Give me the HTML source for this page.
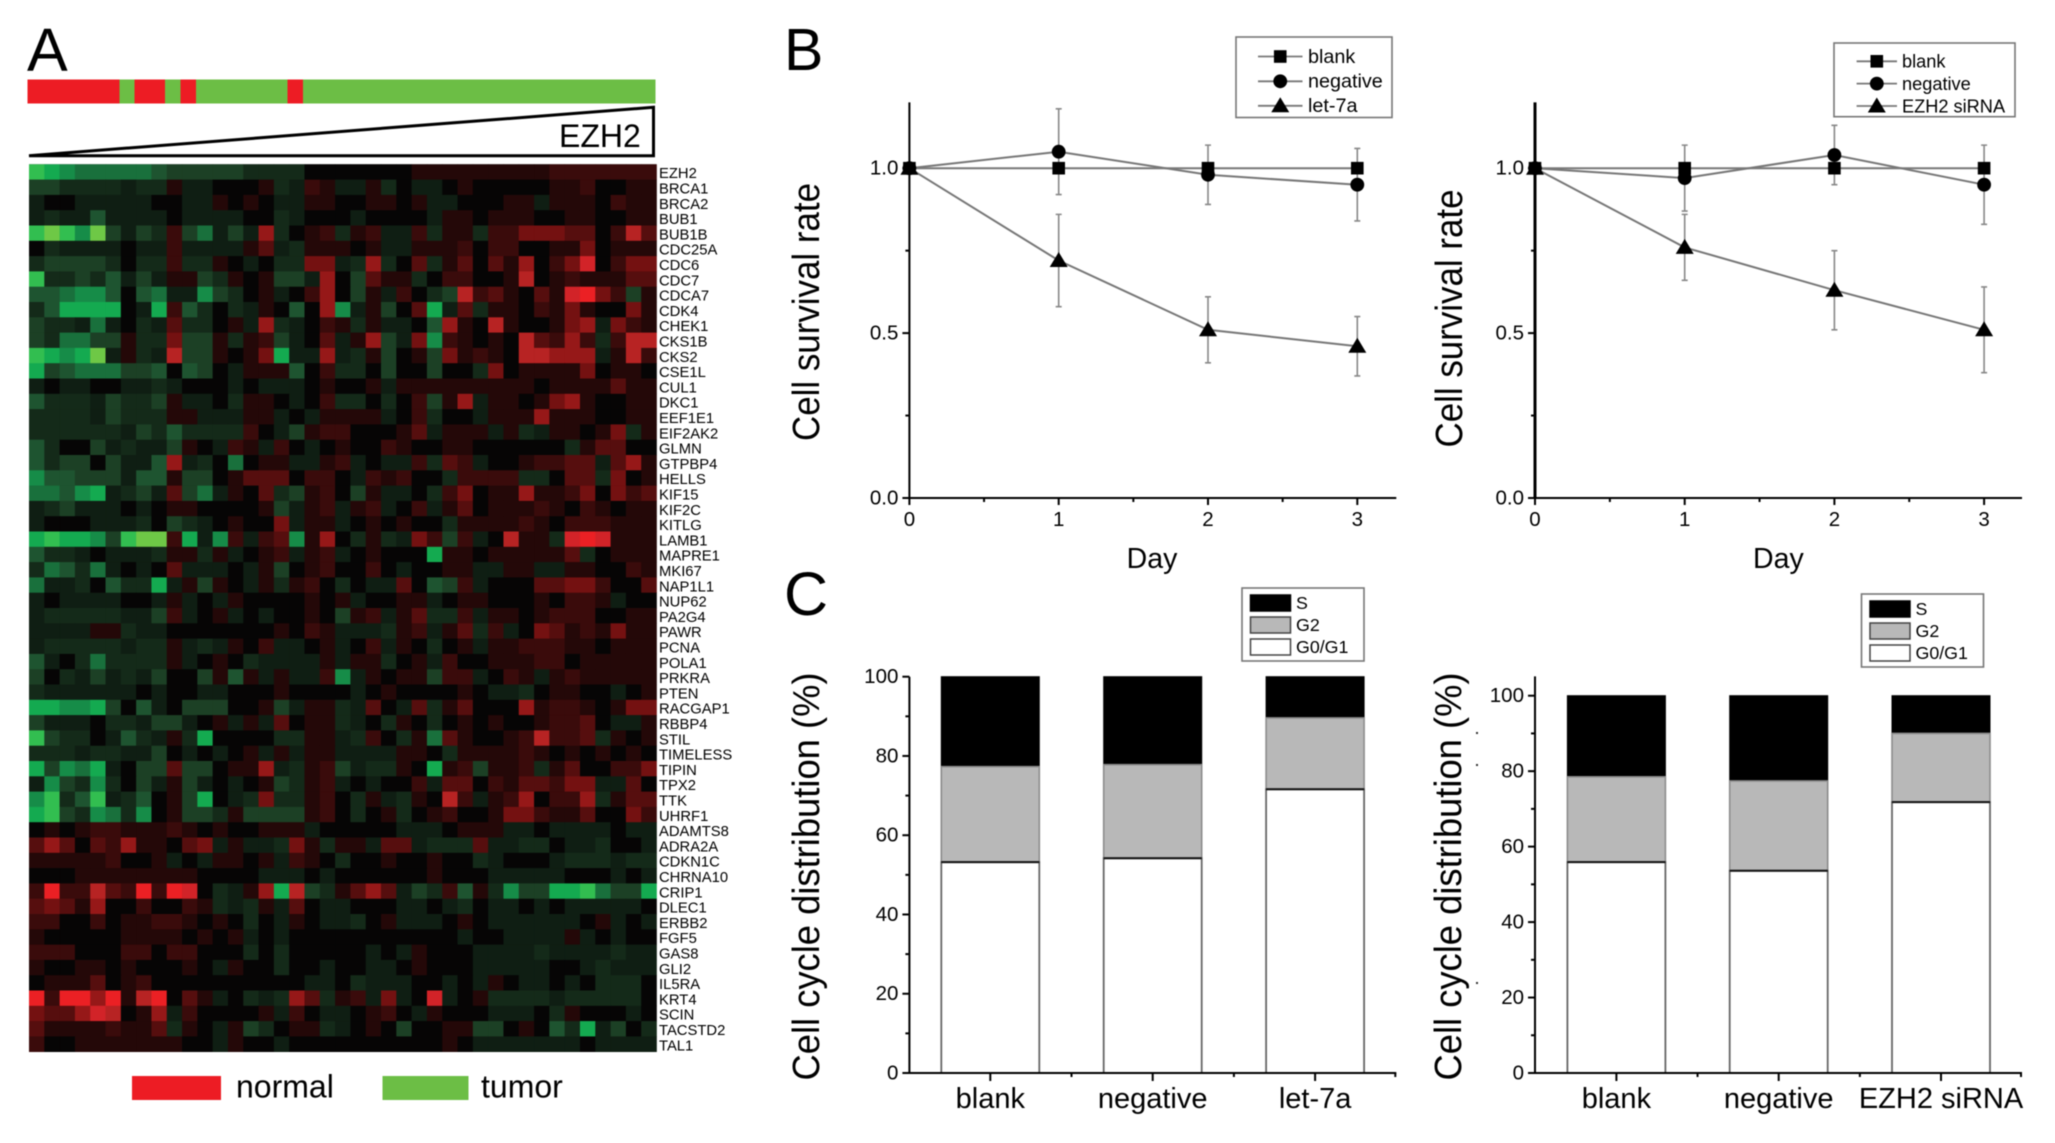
<!DOCTYPE html>
<html lang="en">
<head>
<meta charset="utf-8">
<title>EZH2 expression heatmap, cell survival and cell cycle distribution</title>
<style>
html,body{margin:0;padding:0;background:#fff;}
svg{display:block;font-family:"Liberation Sans",Arial,sans-serif;filter:blur(0.45px);}
</style>
</head>
<body>
<svg id="figure" xmlns="http://www.w3.org/2000/svg" width="2055" height="1143" viewBox="0 0 2055 1143">
  <rect x="0" y="0" width="2055" height="1143" fill="#fff"/>
  <text x="27" y="71" font-size="61">A</text>
  <text x="784" y="70" font-size="59">B</text>
  <text x="784" y="615" font-size="61">C</text>
  <polygon points="29,155.7 653.5,107.3 653.5,155.7" fill="#fff" stroke="#000" stroke-width="3"/>
  <text x="559" y="147" font-size="32">EZH2</text>
  <rect x="132" y="1076" width="89" height="24" fill="#ed1c24"/>
  <text x="236" y="1097.5" font-size="32">normal</text>
  <rect x="382.5" y="1076" width="86" height="24" fill="#6cbe45"/>
  <text x="481" y="1097.5" font-size="32">tumor</text>
  <rect x="1476" y="732" width="2" height="2" fill="#333"/>
  <rect x="1476" y="764" width="2" height="2" fill="#333"/>
  <rect x="1476" y="982" width="2" height="2" fill="#333"/>
</svg>
<script>
/* ---------- Heatmap data ---------- */
const sampleTypes = ['n','n','n','n','n','n','t','n','n','t','n','t','t','t','t','t','t','n',
  't','t','t','t','t','t','t','t','t','t','t','t','t','t','t','t','t','t','t','t','t','t','t'];
const geneNames = ['EZH2','BRCA1','BRCA2','BUB1','BUB1B','CDC25A','CDC6','CDC7','CDCA7','CDK4','CHEK1','CKS1B','CKS2','CSE1L','CUL1','DKC1','EEF1E1','EIF2AK2','GLMN','GTPBP4','HELLS','KIF15','KIF2C','KITLG','LAMB1','MAPRE1','MKI67','NAP1L1','NUP62','PA2G4','PAWR','PCNA','POLA1','PRKRA','PTEN','RACGAP1','RBBP4','STIL','TIMELESS','TIPIN','TPX2','TTK','UHRF1','ADAMTS8','ADRA2A','CDKN1C','CHRNA10','CRIP1','DLEC1','ERBB2','FGF5','GAS8','GLI2','IL5RA','KRT4','SCIN','TACSTD2','TAL1'];
const expressionMatrix = [
[-8,-7,-6,-5,-5,-5,-5,-5,-4,-3,-3,-3,-3,-3,-2,-2,-2,-2,0,0,0,0,0,0,0,1,1,1,1,1,1,1,1,1,2,2,2,2,2,2,2],
[-3,-3,-2,-2,-2,-2,-1,-2,-2,1,-1,-1,0,0,0,1,-2,-1,2,1,-1,-1,1,-2,0,-1,-1,0,1,0,0,0,0,0,1,1,2,0,0,1,1],
[-1,0,0,-1,-1,-1,-1,-1,0,0,-1,-1,1,0,1,0,-1,-1,1,1,0,0,1,1,0,1,-1,-1,0,0,0,1,1,-1,1,1,1,0,2,1,1],
[-1,-2,-1,-1,-4,-1,-1,-1,-1,0,-1,-1,-1,-1,0,0,-2,-1,0,0,0,-1,0,0,0,0,-1,1,1,0,1,1,1,0,0,1,1,0,0,1,1],
[-8,-9,-8,-6,-9,-3,-1,-3,-2,2,-3,-5,-1,-3,-1,5,-2,0,1,2,-2,1,2,-1,-1,2,-2,1,1,-2,2,2,4,4,4,3,3,0,2,6,3],
[0,-2,-1,-1,-1,-1,0,-1,-1,2,-1,-1,-1,-1,1,3,-1,-2,1,1,1,0,1,-1,-1,1,1,1,2,0,2,2,0,0,1,1,4,0,1,1,1],
[-2,-3,-3,-3,-3,-2,0,-2,-2,2,-2,-2,1,0,-1,0,-2,-2,4,4,-1,-2,5,-2,0,3,-2,1,3,0,3,1,5,0,2,4,7,0,2,4,4],
[-8,-2,-2,-3,-2,-4,-1,-3,-1,1,1,-3,-2,1,0,1,-3,-3,-1,5,0,-3,3,1,1,-2,0,2,2,0,0,1,6,0,1,2,1,1,1,3,3],
[-4,-4,-5,-6,-6,-4,0,-4,-5,-1,-1,-6,-3,-2,0,1,-1,0,2,5,0,-3,1,-1,2,0,-2,-3,6,2,3,1,0,3,1,7,8,4,2,-3,1],
[-2,-4,-7,-7,-7,-7,0,-1,-7,2,-4,-2,0,-2,-1,1,0,-4,0,5,-6,-1,1,-3,0,3,-7,-1,3,-2,1,1,0,2,1,4,1,0,0,4,1],
[-3,-2,-2,-1,-5,-1,0,-2,-1,3,-2,-2,0,1,-1,5,-2,-1,0,2,1,-2,1,-1,-1,0,-4,5,1,0,6,1,0,0,1,4,5,-1,4,2,1],
[-3,-2,-5,-5,-3,-3,1,-2,-2,4,-3,-3,1,-2,1,2,-3,-1,0,3,-1,1,5,-3,-1,4,-6,2,1,0,1,0,6,3,2,5,2,-2,2,6,6],
[-8,-7,-6,-7,-9,-1,1,-2,-1,6,-3,-3,1,0,1,4,-7,-1,-1,5,-1,-2,1,-3,0,1,-3,4,1,2,1,0,6,6,5,5,5,-1,1,6,2],
[-7,-3,-4,-5,-5,-5,-3,-3,-4,0,-4,-3,0,-1,1,1,1,-4,0,2,-2,-2,0,-3,0,0,-3,0,0,-2,4,0,1,1,1,1,4,0,1,1,0],
[-1,0,-1,-1,0,0,-1,-1,-2,-1,0,0,0,-1,0,-1,-1,-1,0,1,0,0,1,-1,1,1,1,1,1,1,1,1,1,0,1,1,1,1,3,1,1],
[-4,-2,-2,-2,-1,-3,-2,-2,-3,1,-1,-1,0,-2,1,1,0,-1,0,2,-2,-2,0,-2,0,2,-3,1,5,-1,1,1,0,1,4,5,1,0,0,1,1],
[-2,-2,-2,-2,-1,-3,-2,-2,-2,1,1,-1,-1,-1,1,1,-1,0,-1,1,1,1,1,-1,0,2,-2,0,0,-1,1,1,1,5,1,1,1,0,0,1,1],
[-2,-2,-2,-2,-2,-2,-1,-3,-2,-4,-2,-2,-2,-2,2,0,-1,-3,1,2,2,0,0,0,1,3,-1,1,1,1,-1,1,-2,-1,1,1,0,1,4,-2,1],
[-4,-2,0,0,-3,-1,-2,-1,-1,-3,1,0,-1,2,1,-1,2,0,-1,0,1,0,0,2,1,0,0,1,1,0,0,0,0,0,0,-2,1,3,3,0,0],
[-4,-2,-3,-3,0,-3,-1,-1,-4,5,-1,-2,0,-5,0,1,1,-1,-1,1,2,-1,0,-1,-1,2,-2,3,2,-1,0,0,1,2,2,3,3,-1,3,5,1],
[-6,-4,-4,-3,-3,-3,-1,-4,-4,1,-3,-3,0,1,3,3,3,0,2,2,0,-1,2,1,2,0,0,-2,2,2,2,2,-2,-2,0,3,3,-2,4,0,1],
[-5,-5,-4,-6,-7,-1,-2,-3,-1,3,-3,-5,-1,1,0,3,-2,-3,1,2,0,-3,1,-1,-1,0,-2,2,4,0,1,1,5,1,1,2,4,0,4,2,3],
[-1,-2,-3,-1,-1,-1,0,-1,0,1,1,0,0,0,0,1,-3,-1,1,2,-1,1,2,-1,0,2,-1,1,3,0,1,1,1,2,1,0,2,1,0,1,1],
[-1,0,0,0,-1,-1,-1,-2,0,-3,-2,-1,0,1,0,0,4,-1,1,1,-1,0,1,0,1,0,0,-2,1,1,1,1,2,1,0,2,2,2,1,1,1],
[-7,-8,-7,-7,-6,-3,-8,-9,-9,2,-7,-1,-6,2,-1,2,3,-6,1,5,0,-2,1,-2,-1,4,2,-3,2,-1,0,6,1,1,-2,7,8,7,1,1,1],
[-4,-2,-2,-1,0,-1,-1,-1,-2,1,1,-2,1,-1,0,1,2,-1,1,2,-1,0,1,0,0,0,-7,1,1,0,1,1,1,1,1,3,-2,0,1,1,1],
[-2,-5,-4,-2,-5,-1,0,-1,0,3,-1,-1,-1,0,-1,1,-3,0,1,2,0,0,2,0,-1,0,0,1,1,-1,-1,1,1,-1,-1,1,1,0,0,2,1],
[-5,-1,-1,-2,0,-4,-2,-2,-7,-1,1,-3,1,0,-1,1,-2,1,2,0,-2,0,-1,-1,3,0,-4,-3,2,-1,0,0,0,3,3,4,4,2,0,0,3],
[-1,0,-1,-1,-1,-1,0,0,-1,1,-1,0,-1,1,0,0,0,0,1,0,1,-1,0,0,1,1,-1,0,1,1,0,0,0,1,0,2,2,1,-1,0,0],
[-1,-2,-2,-2,-2,-2,-1,-1,-3,2,-1,0,1,-1,0,-1,0,0,1,0,-3,1,2,-1,1,3,-2,-2,2,-1,1,1,0,1,2,2,2,0,0,1,1],
[-1,-1,-1,-1,1,1,-2,-1,-1,0,0,0,0,0,0,0,1,0,2,1,-1,-1,-1,-2,1,2,-1,1,3,-2,2,-1,0,4,3,1,2,1,4,1,1],
[-1,-2,-2,-2,-2,-2,-1,-2,-2,1,-1,-2,-1,1,0,2,-1,-1,0,1,-1,0,2,-1,1,0,-2,0,1,-1,1,1,2,2,2,1,1,0,1,1,1],
[-4,-1,0,-2,-5,-2,-2,-2,-2,1,-1,0,1,0,-2,-1,-1,-1,-1,1,-1,1,1,-2,0,1,-1,2,0,0,1,1,1,2,2,0,1,1,1,1,1],
[-3,0,-2,-1,-3,-1,-2,-1,-3,0,0,-3,1,-4,1,-1,1,-1,-1,2,-6,-1,1,0,1,1,-3,2,2,-1,0,2,1,-1,1,2,1,1,1,1,1],
[-2,-1,-1,-1,-1,-1,-1,0,-1,0,0,-1,-1,0,0,0,1,0,0,0,0,-1,0,1,0,0,0,0,1,0,-1,-1,-2,0,1,1,0,0,-1,0,1],
[-7,-7,-6,-6,-7,-3,0,-4,-1,0,-3,-3,-3,0,0,1,-3,-1,1,1,-2,-1,3,0,-1,3,-2,1,3,0,0,0,5,1,2,2,1,0,1,4,4],
[-3,-1,-1,-1,0,-2,-2,-1,-3,-3,-1,0,1,-1,1,-1,3,0,1,1,-2,-1,0,-2,1,0,-2,0,1,0,1,0,0,1,2,2,3,0,-1,-1,1],
[-8,-3,-2,-2,0,-1,-4,-2,-1,1,-2,-7,0,0,0,0,-2,-2,1,1,-1,-2,2,0,-2,1,-5,3,1,0,0,1,2,6,2,2,3,-2,1,0,1],
[-2,-2,-2,-1,-2,-2,-1,-1,-3,0,-1,0,-1,0,1,-1,1,-1,1,1,-1,-1,-1,-1,1,1,0,-2,1,1,1,1,2,1,0,1,0,1,0,1,0],
[-7,-3,-6,-5,-7,-1,0,-3,-3,3,-3,-3,0,1,1,5,-1,-2,1,2,-3,-1,-2,-2,1,0,-7,1,2,-3,1,1,2,-2,1,3,0,0,2,2,4],
[-1,-6,-3,-2,-6,-2,0,-3,-1,1,-3,-1,0,-1,0,1,-3,-2,1,2,-1,0,-1,0,0,2,-1,3,3,0,2,1,3,3,2,4,4,-1,-1,3,0],
[-6,-8,-2,-4,-8,-1,-2,-4,0,1,-3,-7,0,-1,-2,4,-2,-2,1,2,0,-2,1,-1,-2,1,0,6,2,-1,1,2,5,0,2,2,5,-2,1,3,3],
[-7,-8,-3,-2,-6,-5,-2,-6,0,1,-3,-3,-2,1,-3,-3,-3,-3,1,2,0,-2,0,1,-2,0,1,2,0,0,1,4,4,2,1,1,3,0,0,4,2],
[0,1,0,1,2,2,1,1,1,2,1,0,1,0,0,1,1,1,-1,0,0,0,0,0,-1,-1,-1,0,1,1,1,-1,-1,0,-1,-1,-1,-1,0,-1,-1],
[3,5,3,0,3,2,5,1,1,0,3,4,-1,1,-1,-1,-2,4,1,-2,1,1,-1,3,3,-1,-2,-2,-2,3,-1,-1,-2,-2,0,-1,-1,-2,0,0,-1],
[1,1,1,1,1,2,0,0,1,-1,0,-1,1,1,0,1,-1,2,1,0,-2,0,0,1,0,0,1,0,0,-2,-1,0,0,0,-1,-2,-2,-2,-1,-2,-2],
[0,0,0,1,1,1,1,1,1,1,1,0,0,0,0,-1,-1,-1,0,-1,0,0,0,0,0,0,1,0,0,0,-1,-1,-1,-1,-1,0,0,0,-1,0,-1],
[2,8,2,2,6,3,2,8,2,8,7,0,-2,-1,1,5,-7,6,-3,-2,1,3,5,3,-1,-3,-2,2,-4,1,-2,-6,-3,-3,-7,-7,-8,-5,-3,-3,-7],
[3,4,3,1,5,0,0,2,0,0,2,1,-2,-1,-2,1,-1,3,0,-1,-1,0,0,0,-1,-1,0,-1,-2,0,-1,-1,0,-1,0,-1,-1,-1,-1,-1,0],
[2,2,0,0,2,0,1,1,2,2,1,0,1,0,-2,0,-1,1,0,-1,-1,-2,0,1,-1,-1,-1,0,1,0,-1,-1,-1,-1,-1,-1,0,1,-1,0,-1],
[1,0,0,0,0,0,1,1,1,1,0,1,0,1,-1,0,-1,0,0,0,0,0,0,0,0,0,0,0,-1,0,0,-1,-1,-1,-1,1,-1,0,-1,0,0],
[2,2,2,0,0,0,2,2,0,2,2,0,0,0,-2,0,-2,0,0,0,0,0,-1,0,-1,1,0,0,0,-1,-1,-1,-1,-2,-1,-1,-1,-1,-2,-1,-1],
[1,0,0,1,1,0,1,0,0,0,1,0,-1,1,0,0,-2,0,0,-1,0,0,-1,-1,0,1,0,0,0,-1,-1,-1,-1,-1,0,0,-1,-2,-1,-1,-1],
[0,1,1,1,3,0,1,2,0,0,0,0,0,0,0,0,0,0,-1,-1,0,-2,-1,-1,-1,0,0,-1,0,-1,1,0,-1,-1,0,-1,0,-2,-2,-2,0],
[8,2,8,8,5,8,1,6,8,0,3,1,-1,0,-2,-1,-2,5,3,-2,1,2,-1,4,-1,0,7,-1,0,1,-2,-2,-2,-2,-1,-2,-2,-2,-2,-2,0],
[4,3,3,5,7,6,0,1,5,-1,2,0,0,0,0,1,-1,2,0,-1,-1,0,1,2,0,-1,1,0,0,0,-1,-1,-1,0,-2,1,0,0,0,-1,0],
[3,1,1,1,1,2,1,1,3,-2,1,0,-1,1,-3,-2,0,1,1,-2,-1,0,1,0,-3,0,0,1,1,-3,-3,0,1,0,-4,-2,-7,-1,-3,0,-2],
[2,0,0,1,1,1,1,1,1,1,0,0,-1,1,0,0,-1,0,0,0,0,0,0,0,0,0,0,1,0,-1,-1,-1,-1,-1,-1,-1,0,-1,-1,-1,-1]
];

/* ---------- Survival data (panel B) ---------- */
const survivalDays = [0, 1, 2, 3];
const survivalYTicks = [0, 0.5, 1];
const survivalYTickLabels = ['0.0', '0.5', '1.0'];
const survivalYMinorTicks = [0.25, 0.75];
const survivalXMinorTicks = [0.5, 1.5, 2.5];

const blankLeft = [1, 1, 1, 1];
const negativeLeft = [1, 1.05, 0.98, 0.95];
const negativeLeftErr = [0, 0.13, 0.09, 0.11];
const let7a = [1, 0.72, 0.51, 0.46];
const let7aErr = [0, 0.14, 0.10, 0.09];

const blankRight = [1, 1, 1, 1];
const negativeRight = [1, 0.97, 1.04, 0.95];
const negativeRightErr = [0, 0.10, 0.09, 0.12];
const ezh2Sirna = [1, 0.76, 0.63, 0.51];
const ezh2SirnaErr = [0, 0.10, 0.12, 0.13];

/* ---------- Cell cycle data (panel C) ---------- */
const cycleCategoriesLeft = ['blank', 'negative', 'let-7a'];
const g0g1Left = [53.2, 54.2, 71.6];
const g2Left = [24.1, 23.6, 18.0];
const sLeft = [22.7, 22.2, 10.4];

const cycleCategoriesRight = ['blank', 'negative', 'EZH2 siRNA'];
const g0g1Right = [55.9, 53.6, 71.8];
const g2Right = [22.6, 23.8, 18.2];
const sRight = [21.5, 22.6, 10.0];

const cycleYTicks = [0, 20, 40, 60, 80, 100];
const cycleYMinorTicks = [10, 30, 50, 70, 90];

/* ---------- Helpers ---------- */
const SVGNS = 'http://www.w3.org/2000/svg';
const figure = document.getElementById('figure');
function add(parent, tag, attrs, text) {
  const node = document.createElementNS(SVGNS, tag);
  for (const k in attrs) node.setAttribute(k, attrs[k]);
  if (text !== undefined) node.textContent = text;
  parent.appendChild(node);
  return node;
}
function group(name) {
  const g = add(figure, 'g', {});
  
  
  return g;
}
function heatColor(v) {
  const reds = ['#060505','#240808','#3a0b0b','#560e0e','#741111','#961818','#b72323','#d22328','#eb2024','#f02024'];
  const greens = ['#060505','#0f1e13','#142a19','#1c4025','#1e5430','#19703c','#168c48','#14aa50','#32be50','#6ec846'];
  const i = Math.min(9, Math.abs(Math.round(v)));
  return v >= 0 ? reds[i] : greens[i];
}

/* ---------- Panel A ---------- */
function drawPanelA() {
  const left = 29, cellW = 15.305, top = 164.3, rowH = 15.3;
  const xOf = c => left + c * cellW;
  const yOf = r => top + r * rowH;

  const bar = group('sample-type-bar');
  sampleTypes.forEach((t, c) => {
    const el = add(bar, 'rect', {
      x: xOf(c) - 1.5, y: 79.3, width: cellW + 0.4, height: 24,
      fill: t === 'n' ? '#ed1c24' : '#6cbe45', 'shape-rendering': 'crispEdges'
    });
    
    
  });

  const heat = group('expression-heatmap');
  add(heat, 'rect', { x: left, y: top, width: cellW * 41, height: rowH * geneNames.length, fill: '#060505' });
  expressionMatrix.forEach((row, r) => {
    row.forEach((v, c) => {
      const el = add(heat, 'rect', {
        x: xOf(c).toFixed(2), y: yOf(r).toFixed(2),
        width: (cellW + 0.3).toFixed(2), height: (rowH + 0.3).toFixed(2), fill: heatColor(v)
      });
      
      
    });
  });

  const labels = group('gene-labels');
  geneNames.forEach((g, r) => {
    const el = add(labels, 'text', { x: 659, y: (yOf(r) + rowH / 2 + 6.2).toFixed(2), 'font-size': 14.8 }, g);
    
    
  });
}

/* ---------- Shared axes ---------- */
function axisLines(g, ax, yw) {
  const a = add(g, 'line', { x1: ax.x0, x2: ax.x0, y1: ax.yTop, y2: ax.y0 + 1, stroke: '#000', 'stroke-width': yw });
  
  
  const b = add(g, 'line', { x1: ax.x0 - 1, x2: ax.xEnd, y1: ax.y0, y2: ax.y0, stroke: '#000', 'stroke-width': 2 });
  
  
}
function yAxisTitle(g, text, x, cy, len) {
  const t = add(g, 'text', {
    x: x, y: cy, 'font-size': 38, 'text-anchor': 'middle',
    transform: 'rotate(-90 ' + x + ' ' + cy + ')', textLength: len, lengthAdjust: 'spacingAndGlyphs'
  }, text);
  
  
}
function yTick(g, ax, y, size) {
  const t = add(g, 'line', { x1: ax.x0 - size, x2: ax.x0, y1: y, y2: y, stroke: '#000', 'stroke-width': 2 });
  
  
}
function xTick(g, ax, x, size) {
  const t = add(g, 'line', { x1: x, x2: x, y1: ax.y0, y2: ax.y0 + size, stroke: '#000', 'stroke-width': 2 });
  
  
}
function yTickLabel(g, ax, y, text) {
  const t = add(g, 'text', { x: ax.x0 - 11, y: y + 6.5, 'font-size': 20.5, 'text-anchor': 'end' }, text);
  
  
}

/* ---------- Panel B ---------- */
function marker(g, kind, cx, cy) {
  let el;
  if (kind === 'square') {
    el = add(g, 'rect', { x: cx - 6.3, y: cy - 6.3, width: 12.6, height: 12.6, fill: '#000' });
  } else if (kind === 'circle') {
    el = add(g, 'circle', { cx: cx, cy: cy, r: 6.9, fill: '#000' });
  } else {
    el = add(g, 'polygon', { points: (cx - 9) + ',' + (cy + 6.5) + ' ' + (cx + 9) + ',' + (cy + 6.5) + ' ' + cx + ',' + (cy - 8.5), fill: '#000' });
  }
  
  
}
function drawSurvival(name, ax, series, leg, titleX, titleCy, dayX, yw) {
  const g = group(name);
  const X = d => ax.x0 + d * ax.perDay;
  const Y = v => ax.y0 - v * ax.perUnit;

  axisLines(g, ax, yw);
  survivalYTicks.forEach((v, i) => {
    yTick(g, ax, Y(v), 7);
    yTickLabel(g, ax, Y(v), survivalYTickLabels[i]);
  });
  survivalYMinorTicks.forEach(v => yTick(g, ax, Y(v), 4));
  survivalDays.forEach(d => {
    xTick(g, ax, X(d), 7);
    const t = add(g, 'text', { x: X(d), y: 526, 'font-size': 20.5, 'text-anchor': 'middle' }, String(d));
    
    
  });
  survivalXMinorTicks.forEach(d => xTick(g, ax, X(d), 4));
  yAxisTitle(g, 'Cell survival rate', titleX, titleCy, 258);
  const day = add(g, 'text', { x: dayX, y: 568, 'font-size': 28.5, 'text-anchor': 'middle' }, 'Day');
  
  

  series.forEach(s => {
    if (!s.err) return;
    survivalDays.forEach((d, i) => {
      if (!s.err[i]) return;
      const up = Y(s.values[i] + s.err[i]), lo = Y(s.values[i] - s.err[i]);
      const e = add(g, 'path', {
        d: 'M' + (X(d) - 3) + ' ' + up + 'H' + (X(d) + 3) + 'M' + X(d) + ' ' + up + 'V' + lo + 'M' + (X(d) - 3) + ' ' + lo + 'H' + (X(d) + 3),
        stroke: '#888', 'stroke-width': 1.6, fill: 'none'
      });
      
      
    });
  });
  series.forEach(s => {
    const pts = survivalDays.map((d, i) => X(d).toFixed(1) + ',' + Y(s.values[i]).toFixed(1)).join(' ');
    const l = add(g, 'polyline', { points: pts, fill: 'none', stroke: '#777', 'stroke-width': 2 });
    
    
    survivalDays.forEach((d, i) => marker(g, s.kind, X(d), Y(s.values[i])));
  });

  const box = add(g, 'rect', { x: leg.x, y: leg.y, width: leg.w, height: leg.h, fill: '#fff', stroke: '#777', 'stroke-width': 1.6 });
  
  
  series.forEach((s, i) => {
    const y = leg.rows[i];
    const ln = add(g, 'line', { x1: leg.lx1, x2: leg.lx2, y1: y, y2: y, stroke: '#777', 'stroke-width': 1.8 });
    
    
    marker(g, s.kind, (leg.lx1 + leg.lx2) / 2, y);
    const t = add(g, 'text', { x: leg.tx, y: y + 6.3, 'font-size': leg.fs }, s.name);
    
    
  });
}

/* ---------- Panel C ---------- */
function drawCycle(name, ax, cats, g0, g2, s, leg, titleX) {
  const g = group(name);
  const Y = v => ax.y0 - v * ax.perPct;
  const X = i => ax.xStart + i * ax.step;

  cats.forEach((c, i) => {
    const x = X(i) - ax.barW / 2;
    const t0 = g0[i], t1 = t0 + g2[i], t2 = t1 + s[i];
    const rs = add(g, 'rect', { x: x, y: Y(t2), width: ax.barW, height: Y(t1) - Y(t2), fill: '#000', stroke: '#000', 'stroke-width': 1 });
    
    
    const r2 = add(g, 'rect', { x: x, y: Y(t1), width: ax.barW, height: Y(t0) - Y(t1), fill: '#b8b8b8', stroke: '#8c8c8c', 'stroke-width': 1.6 });
    
    
    const r0 = add(g, 'rect', { x: x, y: Y(t0), width: ax.barW, height: ax.y0 - Y(t0), fill: '#fff', stroke: '#666', 'stroke-width': 1.8 });
    
    
    const top = add(g, 'line', { x1: x, x2: x + ax.barW, y1: Y(t0), y2: Y(t0), stroke: '#111', 'stroke-width': 2 });
    
    
    xTick(g, ax, X(i), 8);
    if (i < cats.length - 1) xTick(g, ax, X(i) + ax.step / 2, 4);
    const lb = add(g, 'text', { x: X(i), y: 1108, 'font-size': 29, 'text-anchor': 'middle' }, c);
    
    
  });
  xTick(g, ax, ax.xEnd - 1, 4);
  axisLines(g, ax, 2);
  cycleYTicks.forEach(v => {
    yTick(g, ax, Y(v), 7);
    yTickLabel(g, ax, Y(v), String(v));
  });
  cycleYMinorTicks.forEach(v => yTick(g, ax, Y(v), 4));
  yAxisTitle(g, 'Cell cycle distribution (%)', titleX, 876.5, 408);

  const box = add(g, 'rect', { x: leg.x, y: leg.y, width: 122, height: 73, fill: '#fff', stroke: '#777', 'stroke-width': 1.6 });
  
  
  const entries = ['S', 'G2', 'G0/G1'];
  const fills = ['#000', '#b8b8b8', '#fff'];
  entries.forEach((label, i) => {
    const y = leg.y + 7 + i * 22;
    const sw = add(g, 'rect', { x: leg.x + 8.5, y: y, width: 40, height: 16, fill: fills[i], stroke: i ? '#444' : '#000', 'stroke-width': 1.5 });
    
    
    const t = add(g, 'text', { x: leg.x + 54, y: y + 14, 'font-size': 17.8 }, label);
    
    
  });
}

drawPanelA();

drawSurvival('survival-chart-let-7a',
  { x0: 909.4, xEnd: 1396.3, y0: 498, yTop: 102.4, perDay: 149.3, perUnit: 329.8 },
  [
    { name: 'blank', kind: 'square', values: blankLeft },
    { name: 'negative', kind: 'circle', values: negativeLeft, err: negativeLeftErr },
    { name: 'let-7a', kind: 'triangle', values: let7a, err: let7aErr }
  ],
  { x: 1236, y: 37, w: 156, h: 80.5, lx1: 1258, lx2: 1302.5, tx: 1308, fs: 19.8, rows: [56.5, 81.3, 105.8] },
  819, 312, 1152, 2);

drawSurvival('survival-chart-ezh2-sirna',
  { x0: 1535, xEnd: 2022, y0: 498, yTop: 102.4, perDay: 149.7, perUnit: 329.8 },
  [
    { name: 'blank', kind: 'square', values: blankRight },
    { name: 'negative', kind: 'circle', values: negativeRight, err: negativeRightErr },
    { name: 'EZH2 siRNA', kind: 'triangle', values: ezh2Sirna, err: ezh2SirnaErr }
  ],
  { x: 1834, y: 43, w: 181, h: 73.7, lx1: 1856.6, lx2: 1897, tx: 1902, fs: 18.2, rows: [61.3, 83.6, 106] },
  1462, 318.5, 1778.4, 3);

drawCycle('cycle-chart-let-7a',
  { x0: 909.4, xEnd: 1396.3, y0: 1073, yTop: 676.7, perPct: 3.963, xStart: 990.3, step: 162.4, barW: 98 },
  cycleCategoriesLeft, g0g1Left, g2Left, sLeft, { x: 1242, y: 588 }, 819);

drawCycle('cycle-chart-ezh2-sirna',
  { x0: 1535, xEnd: 2022, y0: 1073, yTop: 676.4, perPct: 3.773, xStart: 1616.4, step: 162.3, barW: 98 },
  cycleCategoriesRight, g0g1Right, g2Right, sRight, { x: 1861.5, y: 594 }, 1461);
</script>
</body>
</html>
